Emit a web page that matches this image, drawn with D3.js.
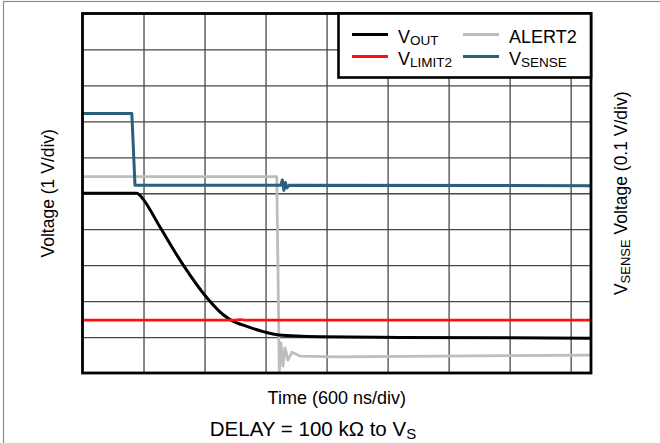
<!DOCTYPE html>
<html>
<head>
<meta charset="utf-8">
<script src="https://cdn.jsdelivr.net/npm/d3@7/dist/d3.min.js"></script>
<style>
  html, body { margin: 0; padding: 0; background: #fff; }
  svg { display: block; font-family: "Liberation Sans", Arial, Helvetica, sans-serif; }
</style>
</head>
<body>
<svg id="chart" width="660" height="443"></svg>
<script>
// ---- data (time in ns, values in screen divisions, 0 = bottom gridline) ----
const timeDomain = [0, 5000];          // 600 ns/div
const divDomain = [0, 10];             // 10 vertical divisions
const xGridTicks = [600, 1200, 1800, 2400, 3000, 3600, 4200, 4800];
const yGridTicks = [1, 2, 3, 4, 5, 6, 7, 8, 9];

const seriesNames = ["VOUT", "VLIMIT2", "ALERT2", "VSENSE"];
const seriesColors = ["#000000", "#ff1010", "#bdbdbd", "#2a5f7d"];

const vsenseT = [0, 485, 501, 516, 1950, 1965, 1980, 1995, 2010, 2030, 5000];
const vsenseV = [7.22, 7.22, 6.2, 5.22, 5.22, 5.37, 5.08, 5.30, 5.15, 5.22, 5.21];

const alertT = [0, 1910, 1935, 1952, 1971, 1991, 2020, 2060, 2139, 2500, 5000];
const alertV = [5.46, 5.46, 0.06, 0.83, 0.19, 0.70, 0.36, 0.58, 0.47, 0.45, 0.50];

const voutT = [0, 533, 565, 598, 762, 991, 1221, 1384, 1480, 1581, 1778, 1925, 2335, 3122, 5000];
const voutV = [5.0, 5.0, 4.94, 4.83, 4.06, 3.0, 2.1, 1.62, 1.44, 1.33, 1.15, 1.06, 1.01, 0.99, 0.97];

const vlimitT = [0, 1500, 1550, 1600, 5000];
const vlimitV = [1.47, 1.47, 1.49, 1.47, 1.47];

// ---- layout ----
const svg = d3.select("#chart");
const pLeft = 82.5, pTop = 13.5, pRight = 591, pBottom = 373;
const x = d3.scaleLinear().domain(timeDomain).range([pLeft, pRight]);
const y = d3.scaleLinear().domain(divDomain).range([pBottom, pTop]);

// outer border
svg.append("rect").attr("x", 3.5).attr("y", 1.5).attr("width", 700).attr("height", 500)
  .attr("fill", "none").attr("stroke", "#8c8c8c").attr("stroke-width", 1.2);

// grid
const gx = svg.append("g").attr("transform", `translate(0,${pBottom})`)
  .call(d3.axisBottom(x).tickValues(xGridTicks).tickSize(-(pBottom - pTop)).tickFormat(""));
const gy = svg.append("g").attr("transform", `translate(${pLeft},0)`)
  .call(d3.axisLeft(y).tickValues(yGridTicks).tickSize(-(pRight - pLeft)).tickFormat(""));
[gx, gy].forEach(g => {
  g.select(".domain").remove();
  g.selectAll(".tick line").attr("stroke", "#474747").attr("stroke-width", 1.3);
});

// traces
const line = d3.line().x(d => x(d[0])).y(d => y(d[1]));
const smooth = d3.line().x(d => x(d[0])).y(d => y(d[1])).curve(d3.curveMonotoneX);
const zip = (t, v) => t.map((tt, i) => [tt, v[i]]);
const traces = [
  { d: zip(alertT, alertV), c: seriesColors[2], w: 2.8, gen: line },
  { d: zip(voutT, voutV), c: seriesColors[0], w: 3, gen: smooth },
  { d: zip(vlimitT, vlimitV), c: seriesColors[1], w: 2.6, gen: line },
  { d: zip(vsenseT, vsenseV), c: seriesColors[3], w: 3, gen: line }
];
svg.append("clipPath").attr("id", "pc").append("rect")
  .attr("x", pLeft).attr("y", pTop).attr("width", pRight - pLeft).attr("height", pBottom - pTop);
const tg = svg.append("g").attr("clip-path", "url(#pc)");
traces.forEach(tr => {
  tg.append("path").attr("d", tr.gen(tr.d)).attr("fill", "none")
    .attr("stroke", tr.c).attr("stroke-width", tr.w).attr("stroke-linejoin", "round");
});

// plot frame
svg.append("rect").attr("x", pLeft).attr("y", pTop).attr("width", pRight - pLeft).attr("height", pBottom - pTop)
  .attr("fill", "none").attr("stroke", "#000").attr("stroke-width", 2.8);

// legend
const lg = svg.append("g");
lg.append("rect").attr("x", 338.5).attr("y", pTop).attr("width", pRight - 338.5).attr("height", 64)
  .attr("fill", "#fff").attr("stroke", "#000").attr("stroke-width", 2.6);
const legendItems = [
  { main: "V", sub: "OUT", c: seriesColors[0], lx: 352, tx: 398, row: 0 },
  { main: "ALERT2", sub: "", c: seriesColors[2], lx: 463, tx: 509, row: 0 },
  { main: "V", sub: "LIMIT2", c: seriesColors[1], lx: 352, tx: 398, row: 1 },
  { main: "V", sub: "SENSE", c: seriesColors[3], lx: 463, tx: 509, row: 1 }
];
legendItems.forEach(it => {
  const ly = it.row === 0 ? 34.5 : 56.5;
  lg.append("line").attr("x1", it.lx).attr("x2", it.lx + 36).attr("y1", ly).attr("y2", ly)
    .attr("stroke", it.c).attr("stroke-width", 3);
  const t = lg.append("text").attr("x", it.tx).attr("y", ly + 8).attr("font-size", 18).attr("fill", "#000");
  t.append("tspan").text(it.main);
  if (it.sub) t.append("tspan").attr("font-size", 13.5).attr("dy", 2.5).text(it.sub);
});

// axis titles
svg.append("text").attr("transform", `translate(54,${(pTop + pBottom) / 2}) rotate(-90)`)
  .attr("text-anchor", "middle").attr("font-size", 17.5).text("Voltage (1 V/div)");

const rt = svg.append("text").attr("transform", `translate(627,${(pTop + pBottom) / 2}) rotate(-90)`)
  .attr("text-anchor", "middle").attr("font-size", 17.5);
rt.append("tspan").text("V");
rt.append("tspan").attr("font-size", 13).attr("dy", 2.5).text("SENSE");
rt.append("tspan").attr("dy", -2.5).text(" Voltage (0.1 V/div)");

svg.append("text").attr("x", (pLeft + pRight) / 2).attr("y", 403.5).attr("text-anchor", "middle")
  .attr("font-size", 18).text("Time (600 ns/div)");

const dt = svg.append("text").attr("x", 313).attr("y", 436).attr("text-anchor", "middle").attr("font-size", 20.5);
dt.append("tspan").text("DELAY = 100 kΩ to V");
dt.append("tspan").attr("font-size", 15).attr("dy", 3).text("S");
</script>
</body>
</html>
